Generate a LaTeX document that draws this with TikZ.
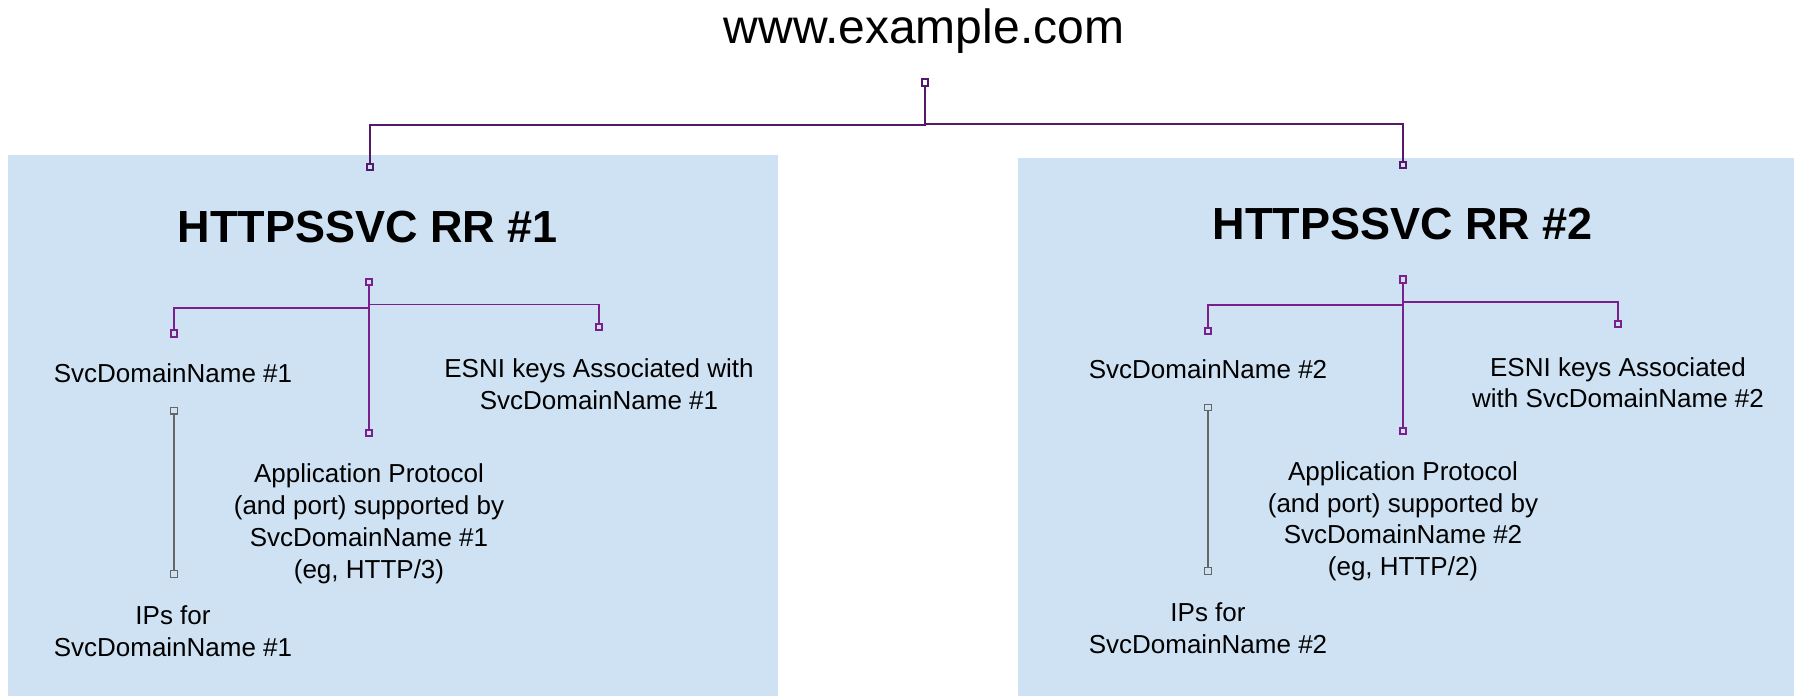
\documentclass[tikz,border=0pt]{standalone}
\usepackage{fontspec}
\setmainfont{Liberation Sans}
\usetikzlibrary{calc}
\definecolor{panelblue}{RGB}{207,226,243}
\definecolor{toppurple}{RGB}{85,25,105}
\definecolor{subpurple}{RGB}{122,32,140}
\definecolor{linegray}{RGB}{102,102,102}
\tikzset{
  panel/.style={fill=panelblue, draw=none, inner sep=0pt, outer sep=0pt, anchor=north west},
  marker/.style={draw, rectangle, inner sep=0pt, minimum width=6.5pt, minimum height=6.5pt},
  topmark/.style={marker, draw=toppurple, line width=2pt},
  submark/.style={marker, draw=subpurple, line width=1.8pt},
  graymark/.style={marker, draw=linegray, line width=1.3pt},
  topline/.style={draw=toppurple, line width=2pt},
  subline/.style={draw=subpurple, line width=1.8pt},
  grayline/.style={draw=linegray, line width=1.4pt},
  lbl/.style={font=\fontsize{26}{31.7}\selectfont, align=center, anchor=base, inner sep=0pt},
  rrtitle/.style={font=\fontsize{45}{52}\selectfont\bfseries, anchor=base, inner sep=0pt},
  sitetitle/.style={font=\fontsize{48}{56}\selectfont, anchor=base, inner sep=0pt}
}
\begin{document}
\begin{tikzpicture}[x=1pt,y=-1pt]
\useasboundingbox (0,0) rectangle (1794,696);
% panels
\node[panel, minimum width=770pt, minimum height=541pt] (box1) at (8,155) {};
\node[panel, minimum width=776pt, minimum height=538pt] (box2) at (1018,158) {};
% top
\node[sitetitle] (site) at (924,43) {www.example.com};
\node[topmark] (p0) at (925,82.5) {};
\node[topmark] (c1) at (370,167) {};
\node[topmark] (c2) at (1403,165) {};
\draw[topline] (p0.south) |- ($(p0)!.5!(c1)$) -| (c1.north);
\draw[topline] (p0.south) |- ($(p0)!.5!(c2)$) -| (c2.north);
% RR 1
\node[rrtitle] (t1) at (368,242) {HTTPSSVC RR \#1};
\node[submark] (s1) at (369,282) {};
\node[submark] (a1) at (174,333.5) {};
\node[submark] (b1) at (599,327) {};
\node[submark] (m1) at (369,433) {};
\draw[subline] (s1.south) |- ($(s1)!.5!(a1)$) -| (a1.north);
\draw[subline] (s1.south) |- ($(s1)!.5!(b1)$) -| (b1.north);
\draw[subline] (s1.south) -- (m1.north);
\node[graymark] (g1t) at (174,410.7) {};
\node[graymark] (g1b) at (174,574) {};
\draw[grayline] (g1t.south) -- (g1b.north);
\node[lbl] (dn1) at (173,382) {SvcDomainName \#1};
\node[lbl] (es1) at (599,409) {ESNI keys Associated with\\SvcDomainName \#1};
\node[lbl] (ap1) at (369,578) {Application Protocol\\(and port) supported by\\SvcDomainName \#1\\(eg, HTTP/3)};
\node[lbl] (ip1) at (173,656) {IPs for\\SvcDomainName \#1};
% RR 2
\node[rrtitle] (t2) at (1403,239.5) {HTTPSSVC RR \#2};
\node[submark] (s2) at (1403,279.5) {};
\node[submark] (a2) at (1208,331) {};
\node[submark] (b2) at (1618,324) {};
\node[submark] (m2) at (1403,431) {};
\draw[subline] (s2.south) |- ($(s2)!.5!(a2)$) -| (a2.north);
\draw[subline] (s2.south) |- ($(s2)!.5!(b2)$) -| (b2.north);
\draw[subline] (s2.south) -- (m2.north);
\node[graymark] (g2t) at (1208,407.5) {};
\node[graymark] (g2b) at (1208,571) {};
\draw[grayline] (g2t.south) -- (g2b.north);
\node[lbl] (dn2) at (1208,378.8) {SvcDomainName \#2};
\node[lbl] (es2) at (1618,407.7) {ESNI keys Associated\\with SvcDomainName \#2};
\node[lbl] (ap2) at (1403,575.5) {Application Protocol\\(and port) supported by\\SvcDomainName \#2\\(eg, HTTP/2)};
\node[lbl] (ip2) at (1208,653) {IPs for\\SvcDomainName \#2};
\end{tikzpicture}
\end{document}
